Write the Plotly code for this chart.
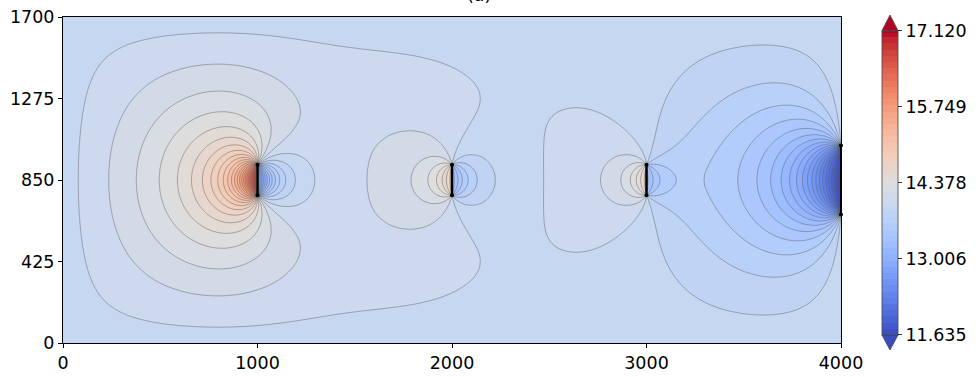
import numpy as np
import plotly.graph_objects as go

# ---------------- values ----------------
x_ticks = [0, 1000, 2000, 3000, 4000]
y_ticks = [0, 425, 850, 1275, 1700]
cbar_ticks = [11.635, 13.006, 14.378, 15.749, 17.120]
domain_x = [0, 4000]
domain_y = [0, 1700]
fracture_x = [1000, 2000, 3000]
fracture_y_bottom = [770, 770, 770]
fracture_y_top = [930, 930, 930]
fracture_jump = [4.5, 1.6, 1.45]       # head jump across each fracture
fracture_source = [1.4, 0.0, 0.3]      # inflow strength at each fracture
outlet_x = [4000]
outlet_y_bottom = [670]
outlet_y_top = [1030]
outlet_head = [11.55]
boundary_head = [13.93]
recharge_peak = [0.1]
level_min, level_max, n_levels = 11.635, 17.120, 50
title_text = "(a)"

# coolwarm colour table
cw_t = np.linspace(0, 1, 33)
cw_rgb = [(59,76,192),(68,90,204),(77,104,215),(87,117,225),(98,130,234),(108,142,241),
          (119,154,247),(130,165,251),(141,176,254),(152,185,255),(163,194,255),(174,201,253),
          (184,208,249),(194,213,244),(204,217,238),(213,219,230),(221,221,221),(229,216,209),
          (236,211,197),(241,204,185),(245,196,173),(247,187,160),(247,177,148),(247,166,135),
          (244,154,123),(241,141,111),(236,127,99),(229,112,88),(222,96,77),(213,80,66),
          (203,62,56),(192,40,47),(180,4,38)]
coolwarm = [[float(t), "rgb(%d,%d,%d)" % c] for t, c in zip(cw_t, cw_rgb)]

# ---------------- field construction ----------------
Lx, Ly = domain_x[1], domain_y[1]
h = 10.0
xs = np.arange(0, Lx + h, h)
ys = np.arange(0, Ly + h, h)


def seg_angle(X, Y, x0, ya, yb):
    v1x, v1y = x0 - X, ya - Y
    v2x, v2y = x0 - X, yb - Y
    cross = v1x * v2y - v1y * v2x
    dot = v1x * v2x + v1y * v2y
    return np.arctan2(cross, dot)


def seg_source(X, Y, x0, ya, yb):
    dx2 = (X - x0) ** 2 + 1e-6
    adx = np.sqrt(dx2)
    def F(u):
        return u * np.log(dx2 + u * u) - 2 * u + 2 * adx * np.arctan(u / adx)
    m = (F(yb - Y) - F(ya - Y)) / (yb - ya)
    return -m / (4 * np.pi)


h0 = boundary_head[0]
C = (h0 - outlet_head[0]) / np.pi
A = [j / (2 * np.pi) for j in fracture_jump]


def frac_sum(X, Y):
    s = np.zeros_like(X)
    for xf, ya, yb, a, sq in zip(fracture_x, fracture_y_bottom, fracture_y_top, A, fracture_source):
        s += a * seg_angle(X, Y, xf, ya, yb) + sq * seg_source(X, Y, xf, ya, yb)
    return s


def outlet_angle(X, Y):
    return np.abs(seg_angle(X, Y, outlet_x[0], outlet_y_bottom[0], outlet_y_top[0]))


XS, YS = np.meshgrid(xs, ys)
B = -frac_sum(XS, YS) + C * outlet_angle(XS, YS)
B[:, -1] = -frac_sum(XS[:, -1], YS[:, -1])

q = 8 * recharge_peak[0] / Ly ** 2
nxi, nyi = len(xs) - 2, len(ys) - 2
kx = np.arange(1, nxi + 1)
ky = np.arange(1, nyi + 1)
Sx = np.sin(np.pi * np.outer(kx, kx) / (nxi + 1))
Sy = np.sin(np.pi * np.outer(ky, ky) / (nyi + 1))
lamx = -4 * np.sin(np.pi * kx / (2 * (nxi + 1))) ** 2
lamy = -4 * np.sin(np.pi * ky / (2 * (nyi + 1))) ** 2
R = -q * h * h * np.ones((nyi, nxi))
R[0, :] -= B[0, 1:-1]
R[-1, :] -= B[-1, 1:-1]
R[:, 0] -= B[1:-1, 0]
R[:, -1] -= B[1:-1, -1]
Rh = Sy @ R @ Sx
Wh = Rh / (lamy[:, None] + lamx[None, :])
W = (Sy @ Wh @ Sx) * (2.0 / (nyi + 1)) * (2.0 / (nxi + 1))
w = B.copy()
w[1:-1, 1:-1] = W

xp = np.concatenate([[xs[0]], 0.5 * (xs[:-1] + xs[1:]), [xs[-1]]])
wp = np.concatenate([w[:, :1], 0.5 * (w[:, :-1] + w[:, 1:]), w[:, -1:]], axis=1)
XP, YP = np.meshgrid(xp, ys)
Z = h0 + frac_sum(XP, YP) - C * outlet_angle(XP, YP) + wp

# ---------------- figure ----------------
L, T, Wd, Ht = 63, 17, 778, 326
def px2x(p):
    return (p - L) / Wd
def py2y(p):
    return (T + Ht - p) / Ht

step = (level_max - level_min) / (n_levels - 1)
tick_font = dict(family="DejaVu Sans", size=17.5, color="black")
contours = dict(start=level_min, end=level_max, size=step)

fig = go.Figure()
fig.add_trace(go.Contour(
    x=xp, y=ys, z=Z,
    colorscale=coolwarm, zmin=level_min, zmax=level_max,
    contours=dict(coloring="fill", showlines=False, **contours),
    line=dict(width=0),
    hoverinfo="skip",
    colorbar=dict(
        x=px2x(882), xanchor="left", xpad=0,
        y=py2y(182.85), yanchor="middle", ypad=0,
        len=304.3, lenmode="pixels",
        thickness=16, thicknessmode="pixels",
        outlinewidth=0.8, outlinecolor="#444",
        tickvals=cbar_ticks, ticktext=["%.3f" % v for v in cbar_ticks],
        ticks="outside", ticklen=4, tickcolor="#333", tickwidth=1,
        tickfont=tick_font,
    ),
))
fig.add_trace(go.Contour(
    x=xp, y=ys, z=Z, showscale=False,
    contours=dict(coloring="none", **contours),
    line=dict(color="rgba(95,95,95,0.6)", width=0.8),
    hoverinfo="skip",
))

for xf, ya, yb in zip(fracture_x, fracture_y_bottom, fracture_y_top):
    fig.add_trace(go.Scatter(x=[xf, xf], y=[ya, yb], mode="lines+markers",
                             line=dict(color="black", width=2.2),
                             marker=dict(color="black", size=4),
                             showlegend=False, hoverinfo="skip"))
fig.add_trace(go.Scatter(x=[outlet_x[0], outlet_x[0]], y=[outlet_y_bottom[0], outlet_y_top[0]],
                         mode="lines+markers", line=dict(color="black", width=2),
                         marker=dict(color="black", size=4), cliponaxis=False,
                         showlegend=False, hoverinfo="skip"))

# colorbar extension arrows
cb_l, cb_r = px2x(882), px2x(898)
cb_m = 0.5 * (cb_l + cb_r)
fig.add_shape(type="path", xref="paper", yref="paper",
              path="M %f,%f L %f,%f L %f,%f Z" % (cb_l, py2y(30.7), cb_r, py2y(30.7), cb_m, py2y(15)),
              fillcolor="rgb(180,4,38)", line=dict(color="#444", width=0.8))
fig.add_shape(type="path", xref="paper", yref="paper",
              path="M %f,%f L %f,%f L %f,%f Z" % (cb_l, py2y(335), cb_r, py2y(335), cb_m, py2y(350)),
              fillcolor="rgb(59,76,192)", line=dict(color="#444", width=0.8))

fig.add_annotation(text=title_text, xref="paper", yref="paper", x=px2x(479), y=py2y(7),
                   xanchor="center", yanchor="bottom", showarrow=False,
                   font=dict(family="DejaVu Sans", size=17.5, color="black"))

axis_common = dict(ticks="outside", ticklen=4, tickwidth=1, tickcolor="black",
                   showline=True, mirror=True, linecolor="black", linewidth=1,
                   showgrid=False, zeroline=False, tickfont=tick_font, automargin=False)
fig.update_layout(
    width=976, height=377,
    margin=dict(l=L, r=976 - L - Wd, t=T, b=377 - T - Ht, autoexpand=False),
    paper_bgcolor="white", plot_bgcolor="white",
    xaxis=dict(range=domain_x, tickvals=x_ticks, **axis_common),
    yaxis=dict(range=domain_y, tickvals=y_ticks, **axis_common),
    showlegend=False,
)
fig.write_html("out.html", config={"displayModeBar": False},
               post_script="document.body.style.margin='0';document.body.style.overflow='hidden';")
